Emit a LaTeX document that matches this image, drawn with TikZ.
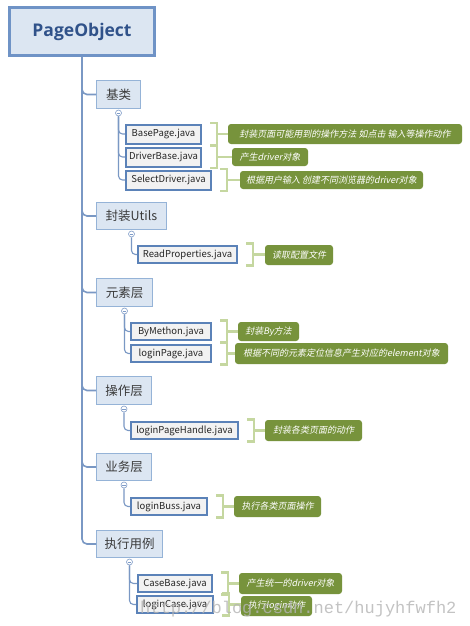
\documentclass[tikz,border=0pt]{standalone}
\usepackage{fontspec}
\setmainfont{Noto Sans CJK SC}
\newfontfamily\cjkit[FakeSlant=0.2]{Noto Sans CJK SC}
\newfontfamily\rootfont{Open Sans}
\newfontfamily\wmfont{Liberation Mono}
\definecolor{catfill}{HTML}{DCE6F2}
\definecolor{catborder}{HTML}{95B3D7}
\definecolor{rootborder}{HTML}{6F93C6}
\definecolor{roottext}{HTML}{30528A}
\definecolor{cattext}{HTML}{3A3A3A}
\definecolor{fileborder}{HTML}{5B82B8}
\definecolor{filefill}{HTML}{F2F2F2}
\definecolor{notefill}{HTML}{77933C}
\definecolor{brackcol}{HTML}{C5D7A0}
\definecolor{linecol}{HTML}{7A98C4}
\definecolor{knobcol}{HTML}{7F9CC8}
\definecolor{wmcol}{HTML}{B4B4B4}
\tikzset{
  rootbox/.style={draw=rootborder, line width=3pt, fill=catfill, minimum width=145pt, minimum height=48pt,
    inner sep=0pt, text=roottext, font=\rootfont\bfseries\fontsize{17.5}{20}\selectfont},
  catbox/.style={draw=catborder, line width=1pt, fill=catfill, inner sep=0pt, text=cattext,
    font=\fontsize{12.5}{14}\selectfont},
  filebox/.style={draw=fileborder, line width=2pt, fill=filefill, inner sep=0pt, text=black!85,
    font=\fontsize{9.5}{11}\selectfont},
  notebox/.style={fill=notefill, rounded corners=3pt, inner sep=0pt, text=white,
    font=\cjkit\fontsize{9}{11}\selectfont},
  trunkline/.style={draw=linecol, line width=1.6pt, rounded corners=5pt},
  twig/.style={draw=linecol, line width=1.1pt, rounded corners=4pt},
  bracketline/.style={draw=brackcol, line width=2.5pt},
  knob/.style={circle, draw=knobcol, fill=white, line width=0.6pt, minimum size=6pt, inner sep=0pt,
    path picture={\draw[knobcol, line width=0.6pt]
      ([xshift=-1.8pt]path picture bounding box.center) -- ([xshift=1.8pt]path picture bounding box.center);}},
}
\newcommand{\bracketto}[2]{%
  \draw[bracketline] ([xshift=8pt,yshift=11pt]#1.east) -- ++(7pt,0pt) -- ++(0pt,-22pt) -- ++(-7pt,0pt);
  \draw[bracketline] ([xshift=15pt]#1.east) -- (#1.east -| #2.west);}
\begin{document}
\begin{tikzpicture}[x=1pt,y=-1pt]
\useasboundingbox[fill=white] (0,0) rectangle (469,626);

% root
\node[rootbox] (root) at (82,31.5) {PageObject};

% categories
\node[catbox, minimum width=44pt, minimum height=28pt] (c1) at (118.5,94.5) {基类};
\node[catbox, minimum width=70pt, minimum height=27pt] (c2) at (131.5,216) {封装Utils};
\node[catbox, minimum width=56pt, minimum height=28pt] (c3) at (124.5,292.5) {元素层};
\node[catbox, minimum width=55pt, minimum height=28pt] (c4) at (124,390.5) {操作层};
\node[catbox, minimum width=55pt, minimum height=27pt] (c5) at (124,467) {业务层};
\node[catbox, minimum width=66pt, minimum height=27pt] (c6) at (129.5,544) {执行用例};

% trunk
\draw[trunkline] (root.south) |- (c6.west);
\foreach \c in {c1,c2,c3,c4,c5} {\draw[trunkline] (root.south) |- (\c.west);}

% files
\node[filebox, minimum width=75pt, minimum height=19pt] (f1) at (163.5,134) {BasePage.java};
\node[filebox, minimum width=75pt, minimum height=19pt] (f2) at (163.5,157) {DriverBase.java};
\node[filebox, minimum width=85pt, minimum height=19pt] (f3) at (168.5,180) {SelectDriver.java};
\node[filebox, minimum width=99pt, minimum height=17pt] (f4) at (187.5,254.5) {ReadProperties.java};
\node[filebox, minimum width=80pt, minimum height=17pt] (f5) at (171,331.5) {ByMethon.java};
\node[filebox, minimum width=80pt, minimum height=17pt] (f6) at (171,353.5) {loginPage.java};
\node[filebox, minimum width=107pt, minimum height=17pt] (f7) at (184.5,430.5) {loginPageHandle.java};
\node[filebox, minimum width=76pt, minimum height=17pt] (f8) at (169,506.5) {loginBuss.java};
\node[filebox, minimum width=74pt, minimum height=17pt] (f9) at (175,583.5) {CaseBase.java};
\node[filebox, minimum width=76pt, minimum height=17pt] (f10) at (175,604.5) {loginCase.java};

% knobs
\node[knob] (k1) at ([yshift=-4pt]c1.south) {};
\node[knob] (k2) at ([yshift=-4pt]c2.south) {};
\node[knob] (k3) at ([yshift=-4pt]c3.south) {};
\node[knob] (k4) at ([yshift=-4pt]c4.south) {};
\node[knob] (k5) at ([yshift=-4pt]c5.south) {};
\node[knob] (k6) at ([yshift=-4pt]c6.south) {};

% twigs
\draw[twig] (k1.south) |- (f1.west);
\draw[twig] (k1.south) |- (f2.west);
\draw[twig] (k1.south) |- (f3.west);
\draw[twig] (k2.south) |- (f4.west);
\draw[twig] (k3.south) |- (f5.west);
\draw[twig] (k3.south) |- (f6.west);
\draw[twig] (k4.south) |- (f7.west);
\draw[twig] (k5.south) |- (f8.west);
\draw[twig] (k6.south) |- (f9.west);
\draw[twig] (k6.south) |- (f10.west);

% notes
\node[notebox, minimum width=234pt, minimum height=20pt] (n1) at (345,134) {封装页面可能用到的操作方法 如点击 输入等操作动作};
\node[notebox, minimum width=76pt, minimum height=18pt] (n2) at (270,157) {产生driver对象};
\node[notebox, minimum width=183pt, minimum height=18pt] (n3) at (331.5,180) {根据用户输入 创建不同浏览器的driver对象};
\node[notebox, minimum width=68pt, minimum height=20pt] (n4) at (299,255) {读取配置文件};
\node[notebox, minimum width=61pt, minimum height=19pt] (n5) at (268.5,331.5) {封装By方法};
\node[notebox, minimum width=213pt, minimum height=21pt] (n6) at (341.5,353.5) {根据不同的元素定位信息产生对应的element对象};
\node[notebox, minimum width=97pt, minimum height=21pt] (n7) at (313.5,430.5) {封装各类页面的动作};
\node[notebox, minimum width=87pt, minimum height=21pt] (n8) at (277.5,506.5) {执行各类页面操作};
\node[notebox, minimum width=103pt, minimum height=21pt] (n9) at (290.5,583.5) {产生统一的driver对象};
\node[notebox, minimum width=71pt, minimum height=20pt] (n10) at (276.5,606) {执行login动作};

% brackets
\bracketto{f1}{n1}
\bracketto{f2}{n2}
\bracketto{f3}{n3}
\bracketto{f4}{n4}
\bracketto{f5}{n5}
\bracketto{f6}{n6}
\bracketto{f7}{n7}
\bracketto{f8}{n8}
\bracketto{f9}{n9}
\bracketto{f10}{n10}

% watermark
\node[anchor=base west, inner sep=0pt, text=wmcol, text opacity=0.8,
  font=\wmfont\fontsize{17}{17}\selectfont] (wm) at (140,613) {http://blog.csdn.net/hujyhfwfh2};
\end{tikzpicture}
\end{document}
